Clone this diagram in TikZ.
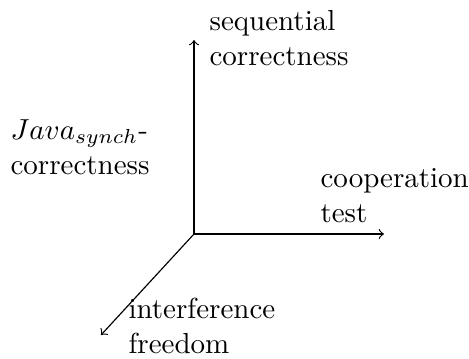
\documentclass[tikz,border=0pt]{standalone}
\begin{document}
\begin{tikzpicture}[x=0.345pt,y=-0.345pt,
  lbl/.style={anchor=base west,inner sep=0pt,align=left},
  axis/.style={->,line width=0.4pt}]
\useasboundingbox (0,0) rectangle (469,358);
\coordinate (o) at (194,234);
\coordinate (up) at (194,40);
\coordinate (right) at (384,234);
\coordinate (down) at (101,335);
\draw[axis] (o) -- (up);
\draw[axis] (o) -- (right);
\draw[axis] (o) -- (down);
\node[lbl] (seq) at (209,65) {sequential\\correctness};
\node[lbl] (java) at (10,174) {$Java_{synch}$-\\correctness};
\node[lbl] (coop) at (320,222) {cooperation\\test};
\node[lbl] (intf) at (128,353) {interference\\freedom};
\end{tikzpicture}
\end{document}
